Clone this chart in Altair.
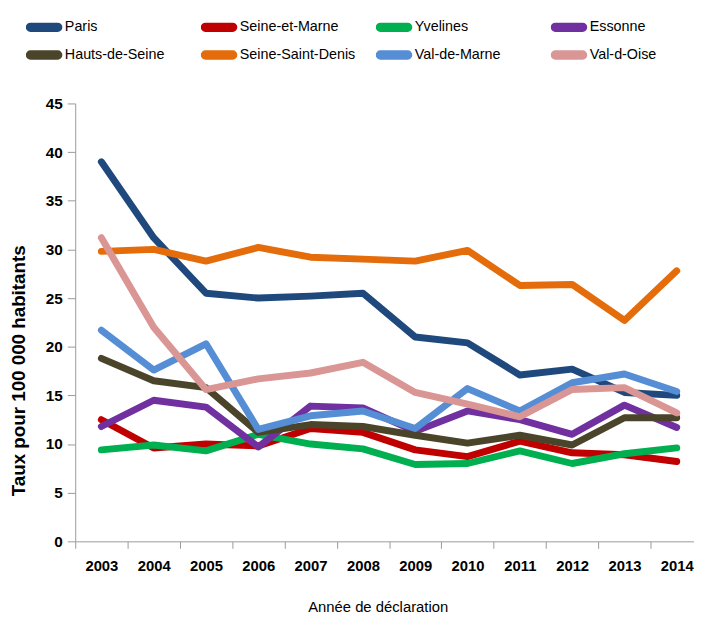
import altair as alt
import pandas as pd

years = ["2003", "2004", "2005", "2006", "2007", "2008", "2009", "2010", "2011", "2012", "2013", "2014"]

series_names = ["Paris", "Seine-et-Marne", "Yvelines", "Essonne",
                "Hauts-de-Seine", "Seine-Saint-Denis", "Val-de-Marne", "Val-d-Oise"]
series_colors = ["#1F497D", "#C00000", "#00B050", "#7030A0",
                 "#4A452A", "#E46C0A", "#558ED5", "#D99694"]

paris = [39.0, 31.2, 25.5, 25.0, 25.2, 25.5, 21.0, 20.4, 17.1, 17.7, 15.3, 15.0]
seine_et_marne = [12.5, 9.6, 10.0, 9.8, 11.6, 11.2, 9.4, 8.7, 10.3, 9.1, 8.9, 8.2]
yvelines = [9.4, 9.9, 9.3, 11.0, 10.0, 9.5, 7.9, 8.0, 9.3, 8.0, 9.0, 9.6]
essonne = [11.8, 14.5, 13.8, 9.7, 13.9, 13.7, 11.3, 13.4, 12.5, 11.0, 14.0, 11.7]
hauts_de_seine = [18.8, 16.5, 15.8, 11.2, 12.0, 11.8, 10.9, 10.1, 10.9, 9.9, 12.7, 12.7]
seine_saint_denis = [29.8, 30.0, 28.8, 30.2, 29.2, 29.0, 28.8, 29.9, 26.3, 26.4, 22.7, 27.8]
val_de_marne = [21.7, 17.6, 20.3, 11.5, 12.9, 13.4, 11.6, 15.7, 13.4, 16.3, 17.2, 15.4]
val_d_oise = [31.2, 22.0, 15.6, 16.7, 17.3, 18.4, 15.3, 14.1, 12.8, 15.6, 15.8, 13.2]

series_values = [paris, seine_et_marne, yvelines, essonne,
                 hauts_de_seine, seine_saint_denis, val_de_marne, val_d_oise]

y_ticks = [0, 5, 10, 15, 20, 25, 30, 35, 40, 45]

rows = []
for name, vals in zip(series_names, series_values):
    for yr, v in zip(years, vals):
        rows.append({"Département": name, "Année": yr, "Taux": v})
df = pd.DataFrame(rows)

FONT = "Liberation Sans, Arial, sans-serif"
AXIS_GREY = "#9a9a9a"

# pill-shaped legend symbol (stroked stadium outline)
PILL = ("M -1.38 -0.07 L 1.38 -0.07 A 0.07 0.07 0 0 1 1.38 0.07 "
        "L -1.38 0.07 A 0.07 0.07 0 0 1 -1.38 -0.07 Z")

chart = alt.Chart(df).mark_line(
    strokeWidth=7, strokeJoin="round", strokeCap="round"
).encode(
    x=alt.X(
        "Année:N",
        sort=years,
        scale=alt.Scale(type="band", range=[0, 635], paddingInner=0, paddingOuter=0),
        axis=alt.Axis(
            title="Année de déclaration",
            labelAngle=0,
            tickBand="extent",
            tickSize=7,
            tickColor=AXIS_GREY,
            domainColor=AXIS_GREY,
            labelFont=FONT,
            labelFontWeight="bold",
            labelFontSize=15,
            labelColor="black",
            labelPadding=11,
            titleFont=FONT,
            titleFontWeight="normal",
            titleFontSize=15,
            titleColor="black",
            titleX=306,
            titleY=66,
            titleBaseline="middle",
            titleAlign="center",
        ),
    ),
    y=alt.Y(
        "Taux:Q",
        scale=alt.Scale(domain=[0, 45], nice=False),
        axis=alt.Axis(
            title="Taux pour 100 000 habitants",
            values=y_ticks,
            grid=False,
            tickSize=8,
            tickColor=AXIS_GREY,
            domainColor=AXIS_GREY,
            labelFont=FONT,
            labelFontWeight="bold",
            labelFontSize=15.5,
            labelColor="black",
            labelPadding=5,
            titleFont=FONT,
            titleFontWeight="bold",
            titleFontSize=19,
            titleColor="black",
            titleAngle=270,
            titleX=-57,
            titleY=270,
            titleBaseline="middle",
            titleAlign="center",
        ),
    ),
    color=alt.Color(
        "Département:N",
        sort=series_names,
        scale=alt.Scale(domain=series_names, range=series_colors),
        legend=alt.Legend(
            title=None,
            orient="none",
            direction="horizontal",
            legendX=-50,
            legendY=-91,
            columns=4,
            gridAlign="all",
            columnPadding=20,
            rowPadding=0,
            clipHeight=28,
            padding=0,
            symbolType=PILL,
            symbolSize=400,
            symbolOffset=4.5,
            symbolStrokeWidth=8,
            labelFont=FONT,
            labelFontSize=14.5,
            labelColor="black",
            labelOffset=7,
            labelLimit=300,
        ),
    ),
).properties(
    width=626,
    height=443,
    autosize=alt.AutoSizeParams(type="none"),
    padding={"left": 68, "top": 93, "right": 0, "bottom": 75},
).configure_view(stroke=None)

chart.save("out.html", embed_options={"renderer": "svg", "actions": False})
